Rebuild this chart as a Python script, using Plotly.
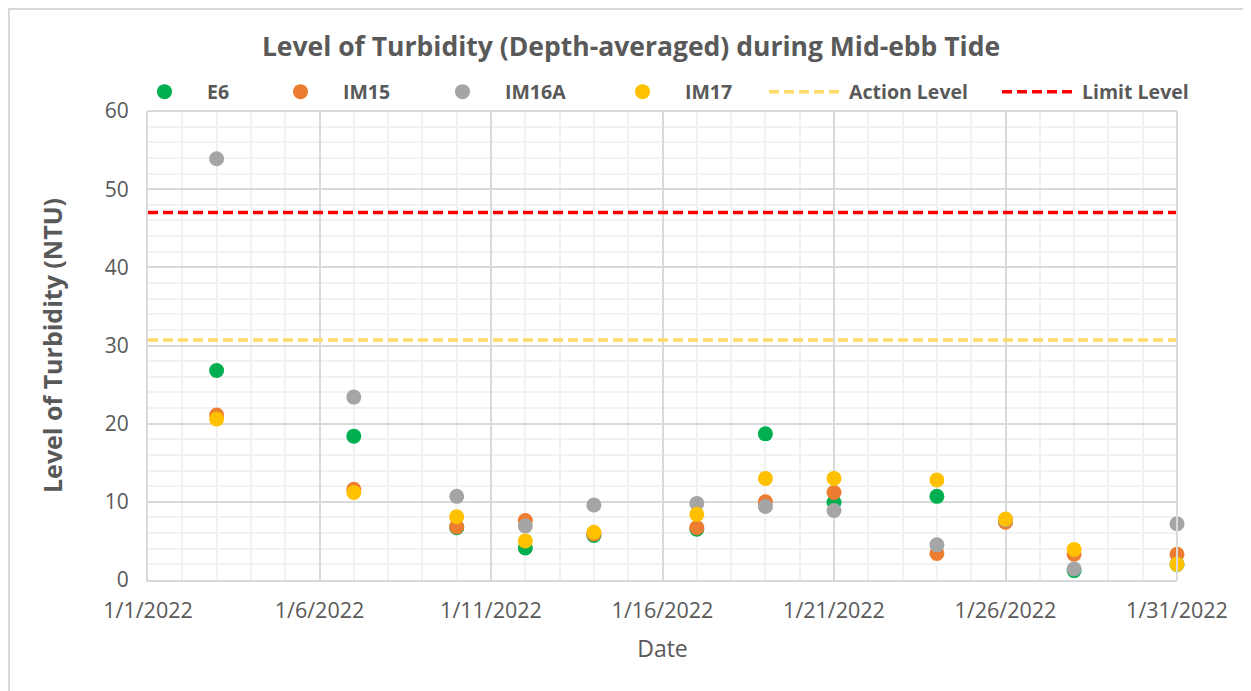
import plotly.graph_objects as go

dates = ["2022-01-03", "2022-01-07", "2022-01-10", "2022-01-12", "2022-01-14", "2022-01-17",
         "2022-01-19", "2022-01-21", "2022-01-24", "2022-01-26", "2022-01-28", "2022-01-31"]
e6 = [26.8, 18.4, 6.7, 4.1, 5.7, 6.5, 18.7, 9.9, 10.7, 7.5, 1.2, 2.0]
im15 = [21.1, 11.6, 6.8, 7.6, 5.9, 6.7, 10.0, 11.2, 3.4, 7.4, 3.3, 3.3]
im16a = [53.9, 23.4, 10.7, 6.9, 9.6, 9.8, 9.4, 8.9, 4.5, 7.7, 1.4, 7.2]
im17 = [20.6, 11.2, 8.1, 5.0, 6.1, 8.4, 13.0, 13.0, 12.8, 7.8, 3.9, 2.0]
action_level = 30.7
limit_level = 47.0
line_x = ["2022-01-01", "2022-01-31"]
tick_vals = ["2022-01-01", "2022-01-06", "2022-01-11", "2022-01-16", "2022-01-21", "2022-01-26", "2022-01-31"]
tick_text = ["1/1/2022", "1/6/2022", "1/11/2022", "1/16/2022", "1/21/2022", "1/26/2022", "1/31/2022"]

grey = "#595959"
font_family = "'Open Sans', sans-serif"

# page body has an 8px margin: screen = figure + 8
OFF = 8
W, H = 1251 - OFF, 691 - OFF
PL, PR, PT, PB = 148 - OFF, 1177 - OFF, 111 - OFF, 580 - OFF
PW, PH = PR - PL, PB - PT

def px_x(screen_x):
    return (screen_x - OFF - PL) / PW

def px_y(screen_y):
    return (PB - (screen_y - OFF)) / PH

fig = go.Figure()
series = [("E6", e6, "#00b050"), ("IM15", im15, "#ed7d31"),
          ("IM16A", im16a, "#a5a5a5"), ("IM17", im17, "#ffc000")]
legend_ids = ["legend", "legend2", "legend3", "legend4", "legend5", "legend6"]
for i, (name, vals, col) in enumerate(series):
    fig.add_trace(go.Scatter(x=dates, y=vals, mode="markers", name=name,
                             marker=dict(color=col, size=15, line=dict(width=0)),
                             cliponaxis=False, legend=legend_ids[i]))
fig.add_trace(go.Scatter(x=line_x, y=[action_level, action_level], mode="lines",
                         name="Action Level", legend=legend_ids[4],
                         line=dict(color="#ffd966", width=3.5, dash="10px,5px")))
fig.add_trace(go.Scatter(x=line_x, y=[limit_level, limit_level], mode="lines",
                         name="Limit Level", legend=legend_ids[5],
                         line=dict(color="#ff0000", width=3.5, dash="10px,5px")))

# left edge (screen px) of each legend entry
legend_left_px = [122, 258, 420, 600, 764, 997]
leg_common = dict(orientation="h", yanchor="middle", y=px_y(92), xanchor="left",
                  font=dict(size=19.5, color=grey, family=font_family, weight="bold"),
                  bgcolor="rgba(0,0,0,0)", itemwidth=75, borderwidth=0)
layout_legends = {}
for lid, lx in zip(legend_ids, legend_left_px):
    layout_legends[lid] = dict(leg_common, x=px_x(lx))

fig.update_layout(
    width=W, height=H,
    paper_bgcolor="white", plot_bgcolor="white",
    margin=dict(l=PL, r=W - PR, t=PT, b=H - PB, autoexpand=False),
    font=dict(family=font_family, color=grey, size=18),
    title=dict(text="<b>Level of Turbidity (Depth-averaged) during Mid-ebb Tide</b>",
               xref="container", x=(631 - OFF) / W, xanchor="center",
               yref="container", y=1 - (47 - OFF) / H, yanchor="middle",
               font=dict(size=26.5, color=grey, family=font_family)),
    showlegend=True,
    **layout_legends,
)
fig.update_xaxes(
    type="date", range=["2022-01-01", "2022-01-31"], automargin=False,
    tickvals=tick_vals, ticktext=tick_text, tickfont=dict(size=21.5, color=grey),
    showgrid=True, gridcolor="#d9d9d9", gridwidth=1.5,
    minor=dict(dtick=86400000, showgrid=True, gridcolor="#f2f2f2", gridwidth=1.5),
    showline=True, linecolor="#d9d9d9", linewidth=2, mirror=False,
    ticks="", zeroline=False, ticklabelstandoff=10,
    title=dict(text="Date", font=dict(size=23, color=grey), standoff=18),
)
fig.update_yaxes(
    range=[0, 60], dtick=10, tickfont=dict(size=21, color=grey), automargin=False,
    showgrid=True, gridcolor="#d9d9d9", gridwidth=1.5,
    minor=dict(dtick=2, showgrid=True, gridcolor="#f2f2f2", gridwidth=1.5),
    showline=True, linecolor="#d9d9d9", linewidth=2,
    ticks="", zeroline=False, ticklabelstandoff=13,
    title=dict(text="<b>Level of Turbidity (NTU)</b>", font=dict(size=25, color=grey), standoff=35),
)
fig.add_shape(type="rect", xref="paper", yref="paper",
              x0=px_x(9), x1=px_x(1249), y0=px_y(720), y1=px_y(9),
              line=dict(color="#d9d9d9", width=2), fillcolor="rgba(0,0,0,0)", layer="below")
fig.add_shape(type="line", xref="paper", yref="paper", x0=1, x1=1, y0=0, y1=1,
              line=dict(color="#d9d9d9", width=2))
fig.add_shape(type="line", xref="paper", yref="paper", x0=0, x1=1, y0=1, y1=1,
              line=dict(color="#d9d9d9", width=2))

fig.write_html("out.html")
